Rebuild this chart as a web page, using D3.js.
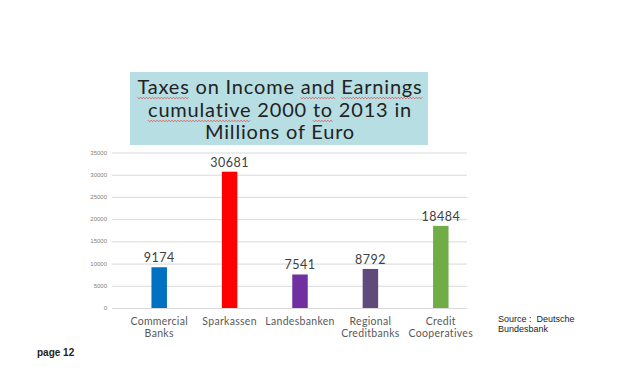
<!DOCTYPE html>
<html lang="en">
<meta charset="utf-8">
<head>
    <script src="https://d3js.org/d3.v7.min.js"></script>
</head>
<body style="margin:0;background:#fff">
<style>
    .grid line { stroke: #d9d9d9; }
    .grid .domain { display: none; }
    .ylab text { font-size: 6px; fill: #7f7f7f; font-family: "Liberation Sans", Arial, sans-serif; }
</style>
<svg width="624" height="377"></svg>
</body>

<script>
// data
var categories = [["Commercial", "Banks"], ["Sparkassen"], ["Landesbanken"], ["Regional", "Creditbanks"], ["Credit", "Cooperatives"]];
var values = [9174, 30681, 7541, 8792, 18484];
var colors = ["#0070c0", "#ff0000", "#7030a0", "#604a7b", "#70ad47"];
var yTicks = [0, 5000, 10000, 15000, 20000, 25000, 30000, 35000];
var titleLines = ["Taxes on Income and Earnings", "cumulative 2000 to 2013 in", "Millions of Euro"];
// words with the red spell-check squiggle
var squiggles = [[0, "Taxes"], [0, "and"], [0, "Earnings"], [1, "cumulative"], [1, "to"]];

var svg = d3.select("svg");
var lato = "Lato, 'Open Sans', sans-serif";
var arial = "'Liberation Sans', Arial, sans-serif";

var x = d3.scaleBand()
    .domain(d3.range(values.length))
    .range([124, 476])
    .paddingInner(0.78)
    .paddingOuter(0.39);
var y = d3.scaleLinear().domain([0, 35000]).range([308, 152.5]);

// gridlines
svg.append("g")
    .attr("class", "grid")
    .attr("transform", "translate(112,0)")
    .call(d3.axisLeft(y).tickValues(yTicks).tickSize(-355).tickFormat(""));

// y labels
svg.append("g")
    .attr("class", "ylab")
    .selectAll("text")
    .data(yTicks)
    .enter().append("text")
    .attr("x", 107)
    .attr("y", function(d) { return y(d); })
    .attr("dy", "0.35em")
    .attr("text-anchor", "end")
    .text(function(d) { return d; });

// bars
svg.selectAll(".bar")
    .data(values)
    .enter().append("rect")
    .attr("class", "bar")
    .attr("x", function(d, i) { return x(i); })
    .attr("y", function(d) { return y(d); })
    .attr("width", x.bandwidth())
    .attr("height", function(d) { return y(0) - y(d); })
    .attr("fill", function(d, i) { return colors[i]; });

// value labels
svg.selectAll(".val")
    .data(values)
    .enter().append("text")
    .attr("class", "val")
    .attr("x", function(d, i) { return x(i) + x.bandwidth() / 2; })
    .attr("y", function(d) { return y(d) - 5; })
    .attr("text-anchor", "middle")
    .style("font-family", lato)
    .style("font-size", "12.5px")
    .style("letter-spacing", "0.5px")
    .attr("fill", "#404040")
    .text(function(d) { return d; });

// category labels
var cat = svg.selectAll(".cat")
    .data(categories)
    .enter().append("text")
    .attr("class", "cat")
    .attr("text-anchor", "middle")
    .style("font-family", lato)
    .style("font-size", "10.5px")
    .style("letter-spacing", "0.3px")
    .attr("fill", "#595959")
    .attr("transform", function(d, i) { return "translate(" + (x(i) + x.bandwidth() / 2) + ",325)"; });
cat.selectAll("tspan")
    .data(function(d) { return d; })
    .enter().append("tspan")
    .attr("x", 0)
    .attr("dy", function(d, i) { return i ? 12 : 0; })
    .text(function(d) { return d; });

// title box
svg.append("rect")
    .attr("x", 130).attr("y", 72)
    .attr("width", 298).attr("height", 73)
    .attr("fill", "#b7dee2");

var baselines = [94, 117, 139];
var titles = svg.selectAll(".title")
    .data(titleLines)
    .enter().append("text")
    .attr("class", "title")
    .attr("x", 280)
    .attr("y", function(d, i) { return baselines[i]; })
    .attr("text-anchor", "middle")
    .style("font-family", lato)
    .style("font-size", "20px")
    .style("letter-spacing", "0.8px")
    .attr("fill", "#222")
    .text(function(d) { return d; });

// squiggly underlines
squiggles.forEach(function(s) {
    var node = titles.nodes()[s[0]];
    var str = titleLines[s[0]];
    var idx = str.indexOf(s[1]);
    var start = node.getStartPositionOfChar(idx).x;
    var end = node.getEndPositionOfChar(idx + s[1].length - 1).x;
    var yy = baselines[s[0]] + 4;
    var pts = [];
    for (var px = 0; px <= end - start; px += 1.5) {
        pts.push([start + px, yy + ((Math.round(px / 1.5)) % 2 ? 0.8 : -0.8)]);
    }
    svg.append("path")
        .attr("d", d3.line()(pts))
        .attr("fill", "none")
        .attr("stroke", "#e0504a")
        .attr("stroke-width", 0.8);
});

// source + page
var src = svg.append("text")
    .style("font-family", arial)
    .style("font-size", "9px")
    .attr("fill", "#222");
src.append("tspan").attr("x", 498).attr("y", 322).text("Source :\u00a0 Deutsche");
src.append("tspan").attr("x", 498).attr("y", 332).text("Bundesbank");

svg.append("text")
    .attr("x", 37).attr("y", 356)
    .style("font-family", arial)
    .style("font-size", "10px")
    .style("font-weight", "bold")
    .attr("fill", "#222")
    .text("page 12");
</script>
